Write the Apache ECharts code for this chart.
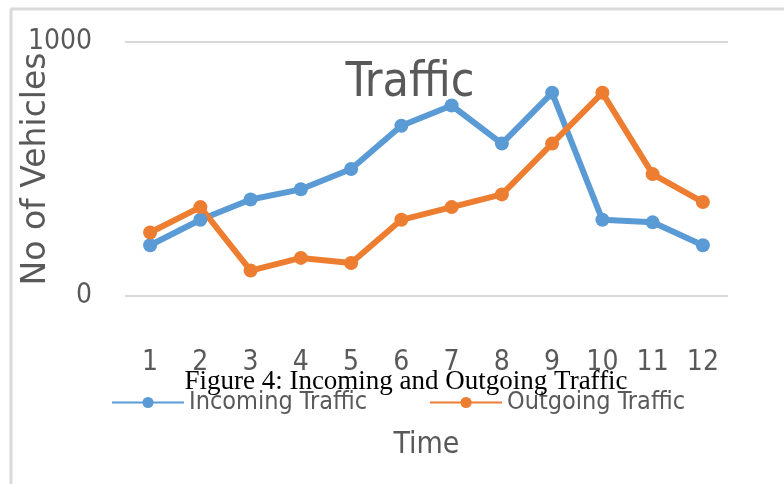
<!DOCTYPE html>
<html>
<head>
<meta charset="utf-8">
<script src="https://cdn.jsdelivr.net/npm/echarts@6/dist/echarts.min.js"></script>
<style>
  html, body { margin: 0; padding: 0; background: #fff; }
  #chart { width: 784px; height: 484px; }
</style>
</head>
<body>
<div id="chart"></div>
<script>
// data
const hours = ['1', '2', '3', '4', '5', '6', '7', '8', '9', '10', '11', '12']
const incoming = [200, 300, 380, 420, 500, 670, 750, 600, 800, 300, 290, 200]
const outgoing = [250, 350, 100, 150, 130, 300, 350, 400, 600, 800, 480, 370]

const narrow = "'Liberation Sans Narrow', 'DejaVu Sans Condensed', sans-serif"
const gray = '#595959'

const chart = echarts.init(document.getElementById('chart'))

chart.setOption({
  animation: false,
  color: ['#5B9BD5', '#ED7D31'],
  title: [
    {
      text: 'Traffic',
      left: 405, top: 55, textAlign: 'center',
      textStyle: { fontFamily: narrow, fontSize: 48, fontWeight: 'normal', color: gray }
    },
    {
      text: 'Figure 4: Incoming and Outgoing Traffic',
      left: 401, top: 363, textAlign: 'center',
      textStyle: { fontFamily: "'Liberation Serif', serif", fontSize: 27, fontWeight: 'normal', color: '#000' }
    }
  ],
  graphic: [
    { type: 'line', shape: { x1: 10, y1: 9, x2: 784, y2: 9 }, style: { stroke: '#d9d9d9', lineWidth: 3 } },
    { type: 'line', shape: { x1: 11, y1: 9, x2: 11, y2: 484 }, style: { stroke: '#d9d9d9', lineWidth: 3 } }
  ],
  legend: {
    left: 106, top: 385,
    itemWidth: 72, itemHeight: 14, itemGap: 62,
    textStyle: { fontFamily: narrow, fontSize: 25, color: gray },
    data: ['Incoming Traffic', 'Outgoing Traffic']
  },
  grid: { left: 125, right: 56, top: 42, bottom: 188, outerBoundsMode: 'none' },
  xAxis: {
    type: 'category',
    data: hours,
    name: 'Time',
    nameLocation: 'middle',
    nameGap: 134,
    nameMoveOverlap: false,
    nameTextStyle: { fontFamily: narrow, fontSize: 30, color: gray },
    axisLine: { show: false },
    axisTick: { show: false },
    axisLabel: { interval: 0, margin: 53, fontFamily: narrow, fontSize: 28, color: gray }
  },
  yAxis: {
    type: 'value',
    min: 0, max: 1000, interval: 1000,
    name: 'No of Vehicles',
    nameLocation: 'middle',
    nameGap: 72,
    nameMoveOverlap: false,
    nameTextStyle: { fontFamily: "'DejaVu Sans', sans-serif", fontSize: 33, color: gray },
    axisLabel: { margin: 33, fontFamily: narrow, fontSize: 28, color: gray, formatter: v => String(v) },
    splitLine: { lineStyle: { color: '#d9d9d9', width: 2 } }
  },
  series: [
    {
      name: 'Incoming Traffic', type: 'line', data: incoming,
      symbol: 'circle', symbolSize: 14,
      lineStyle: { width: 6 }
    },
    {
      name: 'Outgoing Traffic', type: 'line', data: outgoing,
      symbol: 'circle', symbolSize: 14,
      lineStyle: { width: 6 }
    }
  ]
})
</script>
</body>
</html>
